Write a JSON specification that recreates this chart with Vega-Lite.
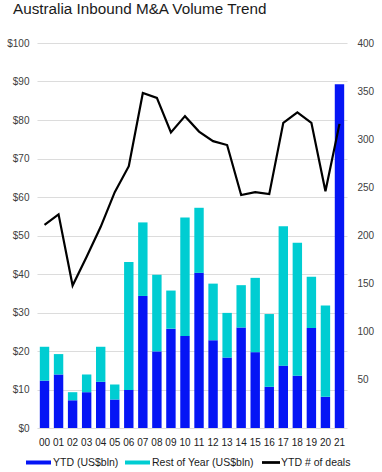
{
  "$schema": "https://vega.github.io/schema/vega-lite/v6.json",
  "width": 310,
  "height": 385,
  "autosize": {"type": "none"},
  "padding": {"left": 37, "top": 43, "right": 35, "bottom": 44},
  "background": "white",
  "config": {
    "font": "Liberation Sans",
    "view": {"stroke": null},
    "axis": {"labelFont": "Liberation Sans", "labelFontSize": 10, "labelColor": "#404040", "ticks": false, "domain": false},
    "legend": {"labelFont": "Liberation Sans"}
  },
  "title": {"text": "Australia Inbound M&A Volume Trend", "anchor": "start", "frame": "group", "dx": -24, "offset": 21, "fontSize": 15.25, "fontWeight": "normal", "color": "#1a1a1a", "font": "Liberation Sans"},
  "datasets": {
    "bars": [
      {"year": "00", "series": "YTD (US$bln)", "ord": 1, "value": 12.3},
      {"year": "00", "series": "Rest of Year (US$bln)", "ord": 2, "value": 8.8},
      {"year": "01", "series": "YTD (US$bln)", "ord": 1, "value": 13.9},
      {"year": "01", "series": "Rest of Year (US$bln)", "ord": 2, "value": 5.3},
      {"year": "02", "series": "YTD (US$bln)", "ord": 1, "value": 7.2},
      {"year": "02", "series": "Rest of Year (US$bln)", "ord": 2, "value": 2.1},
      {"year": "03", "series": "YTD (US$bln)", "ord": 1, "value": 9.3},
      {"year": "03", "series": "Rest of Year (US$bln)", "ord": 2, "value": 4.6},
      {"year": "04", "series": "YTD (US$bln)", "ord": 1, "value": 12.0},
      {"year": "04", "series": "Rest of Year (US$bln)", "ord": 2, "value": 9.1},
      {"year": "05", "series": "YTD (US$bln)", "ord": 1, "value": 7.4},
      {"year": "05", "series": "Rest of Year (US$bln)", "ord": 2, "value": 3.9},
      {"year": "06", "series": "YTD (US$bln)", "ord": 1, "value": 9.9},
      {"year": "06", "series": "Rest of Year (US$bln)", "ord": 2, "value": 33.2},
      {"year": "07", "series": "YTD (US$bln)", "ord": 1, "value": 34.3},
      {"year": "07", "series": "Rest of Year (US$bln)", "ord": 2, "value": 19.1},
      {"year": "08", "series": "YTD (US$bln)", "ord": 1, "value": 19.9},
      {"year": "08", "series": "Rest of Year (US$bln)", "ord": 2, "value": 19.9},
      {"year": "09", "series": "YTD (US$bln)", "ord": 1, "value": 25.8},
      {"year": "09", "series": "Rest of Year (US$bln)", "ord": 2, "value": 9.9},
      {"year": "10", "series": "YTD (US$bln)", "ord": 1, "value": 23.9},
      {"year": "10", "series": "Rest of Year (US$bln)", "ord": 2, "value": 30.8},
      {"year": "11", "series": "YTD (US$bln)", "ord": 1, "value": 40.3},
      {"year": "11", "series": "Rest of Year (US$bln)", "ord": 2, "value": 16.9},
      {"year": "12", "series": "YTD (US$bln)", "ord": 1, "value": 22.8},
      {"year": "12", "series": "Rest of Year (US$bln)", "ord": 2, "value": 14.7},
      {"year": "13", "series": "YTD (US$bln)", "ord": 1, "value": 18.3},
      {"year": "13", "series": "Rest of Year (US$bln)", "ord": 2, "value": 11.6},
      {"year": "14", "series": "YTD (US$bln)", "ord": 1, "value": 26.1},
      {"year": "14", "series": "Rest of Year (US$bln)", "ord": 2, "value": 11.0},
      {"year": "15", "series": "YTD (US$bln)", "ord": 1, "value": 19.7},
      {"year": "15", "series": "Rest of Year (US$bln)", "ord": 2, "value": 19.3},
      {"year": "16", "series": "YTD (US$bln)", "ord": 1, "value": 10.7},
      {"year": "16", "series": "Rest of Year (US$bln)", "ord": 2, "value": 18.9},
      {"year": "17", "series": "YTD (US$bln)", "ord": 1, "value": 16.2},
      {"year": "17", "series": "Rest of Year (US$bln)", "ord": 2, "value": 36.2},
      {"year": "18", "series": "YTD (US$bln)", "ord": 1, "value": 13.6},
      {"year": "18", "series": "Rest of Year (US$bln)", "ord": 2, "value": 34.5},
      {"year": "19", "series": "YTD (US$bln)", "ord": 1, "value": 26.0},
      {"year": "19", "series": "Rest of Year (US$bln)", "ord": 2, "value": 13.3},
      {"year": "20", "series": "YTD (US$bln)", "ord": 1, "value": 8.1},
      {"year": "20", "series": "Rest of Year (US$bln)", "ord": 2, "value": 23.7},
      {"year": "21", "series": "YTD (US$bln)", "ord": 1, "value": 89.3}
    ],
    "deals": [
      {"year": "00", "deals": 211},
      {"year": "01", "deals": 222},
      {"year": "02", "deals": 148},
      {"year": "03", "deals": 178},
      {"year": "04", "deals": 209},
      {"year": "05", "deals": 245},
      {"year": "06", "deals": 272},
      {"year": "07", "deals": 348},
      {"year": "08", "deals": 343},
      {"year": "09", "deals": 307},
      {"year": "10", "deals": 324},
      {"year": "11", "deals": 308},
      {"year": "12", "deals": 298},
      {"year": "13", "deals": 294},
      {"year": "14", "deals": 242},
      {"year": "15", "deals": 245},
      {"year": "16", "deals": 243},
      {"year": "17", "deals": 317},
      {"year": "18", "deals": 328},
      {"year": "19", "deals": 317},
      {"year": "20", "deals": 246},
      {"year": "21", "deals": 316}
    ]
  },
  "encoding": {
    "x": {"field": "year", "type": "ordinal", "scale": {"paddingInner": 0.33, "paddingOuter": 0.2}, "axis": {"title": null, "labelAngle": 0, "labelPadding": 9, "grid": false, "labelColor": "#1a1a1a", "labelFontSize": 10}}
  },
  "layer": [
    {
      "data": {"name": "bars"},
      "mark": {"type": "bar"},
      "encoding": {
        "y": {"field": "value", "type": "quantitative", "stack": "zero", "scale": {"domain": [0, 100]}, "axis": {"title": null, "values": [0, 10, 20, 30, 40, 50, 60, 70, 80, 90, 100], "labelExpr": "'$' + datum.value", "grid": true, "gridColor": "#dcdcdc", "gridWidth": 1.2, "labelPadding": 8}},
        "color": {
          "field": "series", "type": "nominal",
          "scale": {"domain": ["YTD (US$bln)", "Rest of Year (US$bln)", "YTD # of deals"], "range": ["#0515f5", "#00cdd2", "#000000"]},
          "legend": {
            "orient": "none", "legendX": -11, "legendY": 407, "direction": "horizontal", "title": null,
            "symbolType": "M-1,-0.16H1V0.16H-1Z", "symbolSize": 625, "symbolStrokeWidth": 0,
            "labelFontSize": 10.5, "labelColor": "#1a1a1a", "labelOffset": 2, "columnPadding": 6, "padding": 0,
            "encode": {
              "symbols": {"update": {"fill": {"scale": "color", "field": "value"}, "fillOpacity": {"value": 1}, "shape": {"signal": "datum.value === 'YTD # of deals' ? 'M-0.84,-0.11H0.6V0.11H-0.84Z' : 'M-1,-0.16H1V0.16H-1Z'"}}},
              "labels": {"update": {"x": {"signal": "datum.value === 'YTD # of deals' ? 21 : 27"}}}
            }
          }
        },
        "order": {"field": "ord", "type": "quantitative"}
      }
    },
    {
      "data": {"name": "deals"},
      "mark": {"type": "line", "strokeWidth": 2.2},
      "encoding": {
        "y": {"field": "deals", "type": "quantitative", "scale": {"domain": [0, 400]}, "axis": {"orient": "right", "title": null, "values": [50, 100, 150, 200, 250, 300, 350, 400], "grid": false, "labelPadding": 10}},
        "color": {"datum": "YTD # of deals"}
      }
    }
  ],
  "resolve": {"scale": {"y": "independent"}}
}
